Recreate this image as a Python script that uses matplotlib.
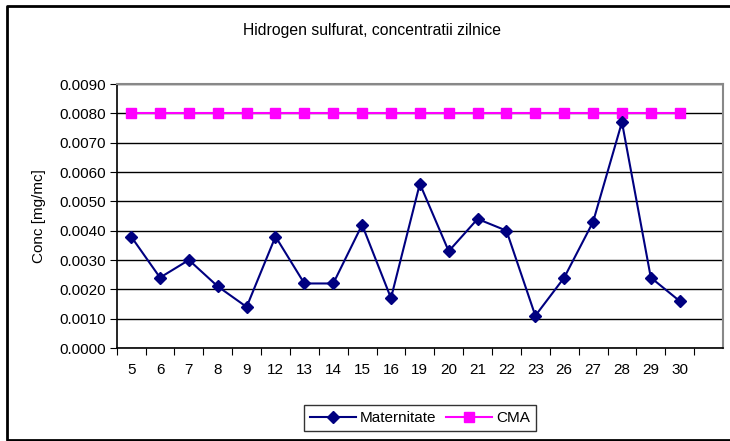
import matplotlib.pyplot as plt
from matplotlib.lines import Line2D
import numpy as np

days = ["5", "6", "7", "8", "9", "12", "13", "14", "15", "16",
        "19", "20", "21", "22", "23", "26", "27", "28", "29", "30"]
maternitate = [0.0038, 0.0024, 0.0030, 0.0021, 0.0014, 0.0038, 0.0022, 0.0022, 0.0042, 0.0017,
               0.0056, 0.0033, 0.0044, 0.0040, 0.0011, 0.0024, 0.0043, 0.0077, 0.0024, 0.0016]
cma = [0.008] * 20
yticks = np.arange(0, 0.0091, 0.001)

plt.rcParams['font.family'] = ['Liberation Sans', 'DejaVu Sans']

fig = plt.figure(figsize=(7.3, 4.41), dpi=100)
ax = fig.add_axes([116.7 / 730, 1 - 348 / 441, (723 - 116.7) / 730, (348 - 84) / 441])

x = np.arange(len(days))
ax.plot(x, maternitate, color="#000080", lw=1.5, marker="D", ms=6, label="Maternitate", zorder=4)
ax.plot(x, cma, color="#FF00FF", lw=1.5, marker="s", ms=7, label="CMA", zorder=3)

ax.set_xlim(-0.5, 20.5)
ax.set_ylim(0, 0.009)
ax.set_yticks(yticks)
ax.set_yticklabels(["%.4f" % v for v in yticks], fontsize=11)
ax.yaxis.grid(True, color="black", lw=1)
ax.set_axisbelow(True)

# category ticks between slots, labels at centres
ax.set_xticks(np.arange(-0.5, 20, 1.0))
ax.set_xticklabels([])
ax.set_xticks(x, minor=True)
ax.set_xticklabels(days, minor=True, fontsize=11)
ax.tick_params(axis="x", which="minor", length=0, pad=11)
ax.tick_params(axis="x", which="major", length=5, direction="out", color="black")
ax.tick_params(axis="y", length=5, direction="out", pad=3)

ax.spines["top"].set_color("#888888")
ax.spines["right"].set_color("#888888")
ax.spines["top"].set_linewidth(1.5)
ax.spines["right"].set_linewidth(1.5)
ax.spines["left"].set_linewidth(1.2)
ax.spines["bottom"].set_linewidth(1.2)

ax.set_ylabel("Conc [mg/mc]", fontsize=11, labelpad=9)
fig.text(372 / 730, 1 - 30 / 441, "Hidrogen sulfurat, concentratii zilnice", ha="center", va="center", fontsize=11.3)

leg = fig.legend(loc="center", bbox_to_anchor=(420 / 730, 1 - 418 / 441), ncol=2, frameon=True,
                 fancybox=False, edgecolor="black", fontsize=11, handlelength=3.0,
                 columnspacing=0.6, handletextpad=0.3, borderpad=0.4)
leg.get_frame().set_linewidth(1)

# outer chart border (open on the right, as in the reference)
bx0, by0, by1 = 7 / 730, 1 / 441, 1 - 6 / 441
fig.lines.append(Line2D([1.0, bx0, bx0, 1.0], [by1, by1, by0, by0], transform=fig.transFigure,
                        color="black", lw=2))

fig.savefig("out.png", dpi=100)
